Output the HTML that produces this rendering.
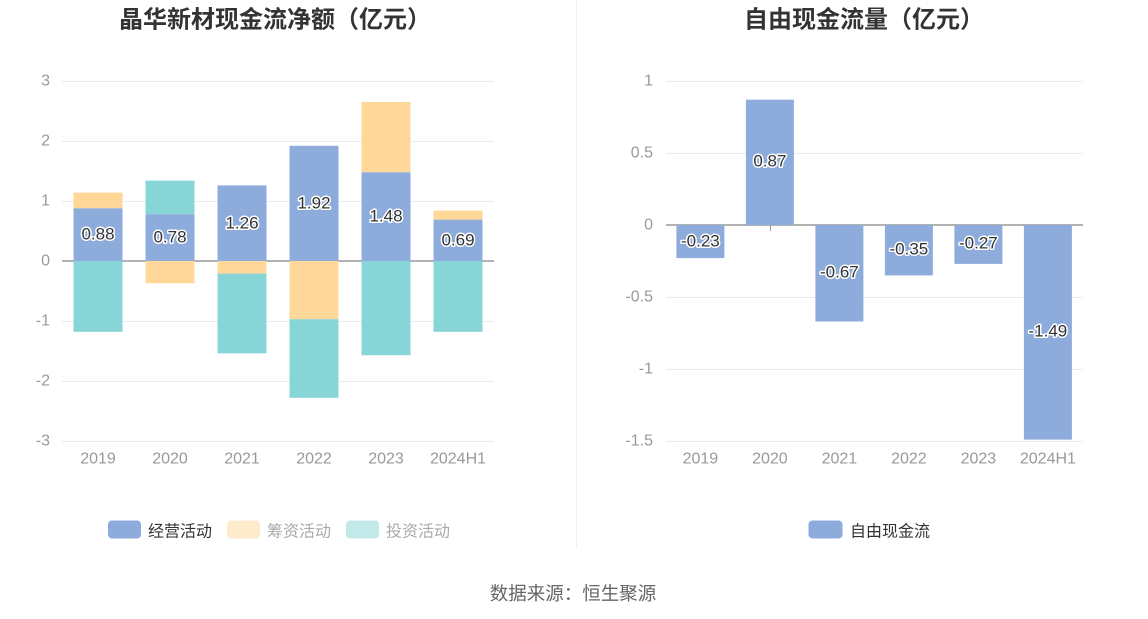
<!DOCTYPE html>
<html>
<head>
<meta charset="utf-8">
<style>
  html,body{margin:0;padding:0;background:#fff;}
  svg{display:block;}
  text{font-family:"Liberation Sans","Noto Sans CJK SC",sans-serif;}
  .cjk{font-family:"Noto Sans CJK SC","WenQuanYi Zen Hei",sans-serif;}
  .ax{fill:#999;font-size:16px;}
  .lbl{fill:#333;font-size:17px;stroke:#fff;stroke-width:3px;paint-order:stroke;stroke-linejoin:round;}
</style>
</head>
<body>
<svg width="1148" height="619" viewBox="0 0 1148 619" xmlns="http://www.w3.org/2000/svg">
  <rect width="1148" height="619" fill="#fff"/>

  <!-- divider -->
  <line x1="576.5" y1="0" x2="576.5" y2="549" stroke="#f0f0f0" stroke-width="1"/>

  <!-- Titles -->
  <text class="cjk" x="275" y="17" text-anchor="middle" dominant-baseline="central" font-size="24" font-weight="bold" fill="#333">晶华新材现金流净额（亿元）</text>
  <text class="cjk" x="864" y="17" text-anchor="middle" dominant-baseline="central" font-size="24" font-weight="bold" fill="#333">自由现金流量（亿元）</text>

  <!-- ===== Left chart ===== -->
  <g stroke="#e8ebf3" stroke-width="1">
    <line x1="62" y1="81.5" x2="494" y2="81.5"/>
    <line x1="62" y1="141.5" x2="494" y2="141.5"/>
    <line x1="62" y1="201.5" x2="494" y2="201.5"/>
    <line x1="62" y1="321.5" x2="494" y2="321.5"/>
    <line x1="62" y1="381.5" x2="494" y2="381.5"/>
    <line x1="62" y1="441.5" x2="494" y2="441.5"/>
  </g>
  <line x1="62" y1="261" x2="494" y2="261" stroke="#999" stroke-width="1.5"/>

  <g class="ax" text-anchor="end" dominant-baseline="central">
    <text x="50" y="81">3</text>
    <text x="50" y="141">2</text>
    <text x="50" y="201">1</text>
    <text x="50" y="261">0</text>
    <text x="50" y="321">-1</text>
    <text x="50" y="381">-2</text>
    <text x="50" y="441">-3</text>
  </g>

  <!-- 2019 -->
  <rect x="73.5" y="208.2" width="49" height="52.8" fill="#8eacdb"/>
  <rect x="73.5" y="192.6" width="49" height="15.6" fill="#ffd899"/>
  <rect x="73.5" y="261" width="49" height="70.8" fill="#88d5d8"/>
  <!-- 2020 -->
  <rect x="145.5" y="214.2" width="49" height="46.8" fill="#8eacdb"/>
  <rect x="145.5" y="180.6" width="49" height="33.6" fill="#88d5d8"/>
  <rect x="145.5" y="261" width="49" height="22.2" fill="#ffd899"/>
  <!-- 2021 -->
  <rect x="217.5" y="185.4" width="49" height="75.6" fill="#8eacdb"/>
  <rect x="217.5" y="261" width="49" height="12.6" fill="#ffd899"/>
  <rect x="217.5" y="273.6" width="49" height="79.8" fill="#88d5d8"/>
  <!-- 2022 -->
  <rect x="289.5" y="145.8" width="49" height="115.2" fill="#8eacdb"/>
  <rect x="289.5" y="261" width="49" height="58.2" fill="#ffd899"/>
  <rect x="289.5" y="319.2" width="49" height="78.6" fill="#88d5d8"/>
  <!-- 2023 -->
  <rect x="361.5" y="172.2" width="49" height="88.8" fill="#8eacdb"/>
  <rect x="361.5" y="102" width="49" height="70.2" fill="#ffd899"/>
  <rect x="361.5" y="261" width="49" height="94.2" fill="#88d5d8"/>
  <!-- 2024H1 -->
  <rect x="433.5" y="219.6" width="49" height="41.4" fill="#8eacdb"/>
  <rect x="433.5" y="210.6" width="49" height="9" fill="#ffd899"/>
  <rect x="433.5" y="261" width="49" height="70.8" fill="#88d5d8"/>

  <g class="lbl" text-anchor="middle" dominant-baseline="central">
    <text x="98" y="234">0.88</text>
    <text x="170" y="237">0.78</text>
    <text x="242" y="223">1.26</text>
    <text x="314" y="203">1.92</text>
    <text x="386" y="216">1.48</text>
    <text x="458" y="240">0.69</text>
  </g>

  <g class="ax" text-anchor="middle" dominant-baseline="central">
    <text x="98" y="459">2019</text>
    <text x="170" y="459">2020</text>
    <text x="242" y="459">2021</text>
    <text x="314" y="459">2022</text>
    <text x="386" y="459">2023</text>
    <text x="458" y="459">2024H1</text>
  </g>

  <!-- legend left -->
  <rect x="108" y="520.5" width="33" height="18" rx="4" fill="#8eacdb"/>
  <text class="cjk" x="148" y="529.5" dominant-baseline="central" font-size="16" fill="#333">经营活动</text>
  <rect x="227" y="520.5" width="33" height="18" rx="4" fill="#fdebcc"/>
  <text class="cjk" x="267" y="529.5" dominant-baseline="central" font-size="16" fill="#aaa">筹资活动</text>
  <rect x="346" y="520.5" width="33" height="18" rx="4" fill="#c2e9ea"/>
  <text class="cjk" x="386" y="529.5" dominant-baseline="central" font-size="16" fill="#aaa">投资活动</text>

  <!-- ===== Right chart ===== -->
  <g stroke="#e8ebf3" stroke-width="1">
    <line x1="666" y1="81.5" x2="1083" y2="81.5"/>
    <line x1="666" y1="153.5" x2="1083" y2="153.5"/>
    <line x1="666" y1="297.5" x2="1083" y2="297.5"/>
    <line x1="666" y1="369.5" x2="1083" y2="369.5"/>
    <line x1="666" y1="441.5" x2="1083" y2="441.5"/>
  </g>
  <line x1="666" y1="225" x2="1083" y2="225" stroke="#999" stroke-width="1.5"/>
  <line x1="770.5" y1="225" x2="770.5" y2="231" stroke="#999" stroke-width="1"/>

  <g class="ax" text-anchor="end" dominant-baseline="central">
    <text x="653" y="81">1</text>
    <text x="653" y="153">0.5</text>
    <text x="653" y="225">0</text>
    <text x="653" y="297">-0.5</text>
    <text x="653" y="369">-1</text>
    <text x="653" y="441">-1.5</text>
  </g>

  <g fill="#8eacdb">
    <rect x="676.4" y="225" width="48" height="33.1"/>
    <rect x="745.9" y="99.7" width="48" height="125.3"/>
    <rect x="815.4" y="225" width="48" height="96.5"/>
    <rect x="884.9" y="225" width="48" height="50.4"/>
    <rect x="954.4" y="225" width="48" height="38.9"/>
    <rect x="1023.9" y="225" width="48" height="214.6"/>
  </g>

  <g class="lbl" text-anchor="middle" dominant-baseline="central">
    <text x="700.4" y="241">-0.23</text>
    <text x="769.9" y="161">0.87</text>
    <text x="839.4" y="272">-0.67</text>
    <text x="908.9" y="249">-0.35</text>
    <text x="978.4" y="243">-0.27</text>
    <text x="1047.9" y="331">-1.49</text>
  </g>

  <g class="ax" text-anchor="middle" dominant-baseline="central">
    <text x="700.4" y="459">2019</text>
    <text x="769.9" y="459">2020</text>
    <text x="839.4" y="459">2021</text>
    <text x="908.9" y="459">2022</text>
    <text x="978.4" y="459">2023</text>
    <text x="1047.9" y="459">2024H1</text>
  </g>

  <!-- legend right -->
  <rect x="808.5" y="520.5" width="34" height="18" rx="4" fill="#8eacdb"/>
  <text class="cjk" x="850" y="529.5" dominant-baseline="central" font-size="16" fill="#333">自由现金流</text>

  <!-- footer -->
  <text class="cjk" x="573" y="593" text-anchor="middle" dominant-baseline="central" font-size="18.5" fill="#666">数据来源：恒生聚源</text>
</svg>
</body>
</html>
